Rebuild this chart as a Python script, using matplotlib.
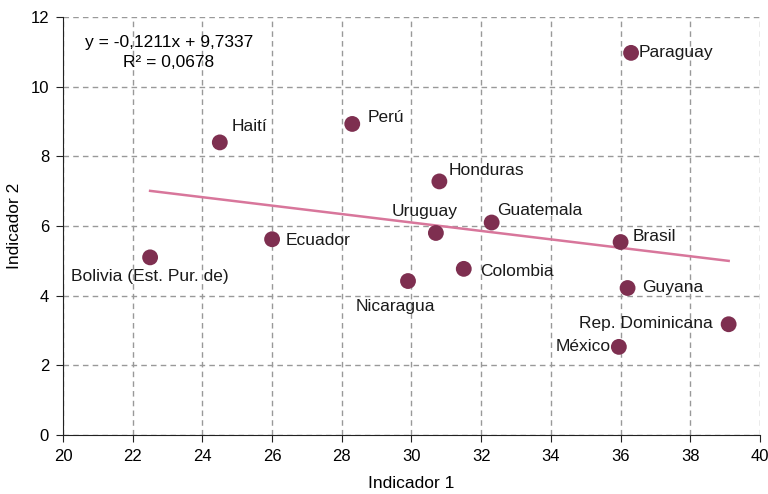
import numpy as np
import matplotlib.pyplot as plt

plt.rcParams['font.family'] = ['Liberation Sans', 'DejaVu Sans']

# datos de los países
paises = ['Bolivia (Est. Pur. de)', 'Haití', 'Ecuador', 'Perú', 'Nicaragua', 'Uruguay',
          'Honduras', 'Colombia', 'Guatemala', 'Paraguay', 'Brasil', 'Guyana',
          'México', 'Rep. Dominicana']
ind1 = [22.5, 24.5, 26.0, 28.3, 29.9, 30.7, 30.8, 31.5, 32.3, 36.3, 36.0, 36.2, 35.95, 39.1]
ind2 = [5.1, 8.4, 5.62, 8.93, 4.42, 5.8, 7.28, 4.77, 6.1, 10.97, 5.54, 4.22, 2.53, 3.18]

# desplazamiento de etiquetas (px) y alineación
offsets = {
    'Bolivia (Est. Pur. de)': (0, -19, 'center'),
    'Haití': (12, 16, 'left'),
    'Ecuador': (14, -1, 'left'),
    'Perú': (15, 6, 'left'),
    'Nicaragua': (-13, -25, 'center'),
    'Uruguay': (-11, 21, 'center'),
    'Honduras': (9, 11, 'left'),
    'Colombia': (16, -3, 'left'),
    'Guatemala': (5, 12, 'left'),
    'Paraguay': (8, 0, 'left'),
    'Brasil': (12, 6, 'left'),
    'Guyana': (15, 1, 'left'),
    'México': (-8, 0, 'right'),
    'Rep. Dominicana': (-16, 1, 'right'),
}

fs = 12.5

fig = plt.figure(figsize=(7.68, 4.94), dpi=100)
ax = fig.add_axes([0.082, 0.1194, 0.9076, 0.8462])

# línea de tendencia
pend, inter = -0.1211, 9.7337
xl = np.array([min(ind1), max(ind1)])
ax.plot(xl, pend * xl + inter, color='#D8769B', lw=1.8, zorder=2)

ax.scatter(ind1, ind2, s=130, color='#7E2F50', edgecolors='none', zorder=3)

for p, x, y in zip(paises, ind1, ind2):
    dx, dy, ha = offsets[p]
    ax.annotate(p, (x, y), xytext=(dx, dy), textcoords='offset pixels',
                ha=ha, va='center', fontsize=fs, color='#1a1a1a', zorder=4)

ax.text(0.152, 0.940, 'y = -0,1211x + 9,7337', transform=ax.transAxes,
        ha='center', va='center', fontsize=fs)
ax.text(0.152, 0.890, 'R² = 0,0678', transform=ax.transAxes,
        ha='center', va='center', fontsize=fs)

ax.set_xlim(20, 40)
ax.set_ylim(0, 12)
ax.set_xticks(range(20, 41, 2))
ax.set_yticks(range(0, 13, 2))
ax.tick_params(labelsize=12, length=5, color='#222222', pad=5)
ax.grid(True, linestyle=(0, (4, 3)), color='#999999', lw=1)
ax.spines['top'].set_visible(False)
ax.spines['right'].set_visible(False)
ax.spines['left'].set_color('#222222')
ax.spines['bottom'].set_color('#222222')
ax.set_axisbelow(True)

ax.set_xlabel('Indicador 1', fontsize=fs, labelpad=9)
ax.set_ylabel('Indicador 2', fontsize=fs, labelpad=6)

plt.savefig('out.png', dpi=100)
